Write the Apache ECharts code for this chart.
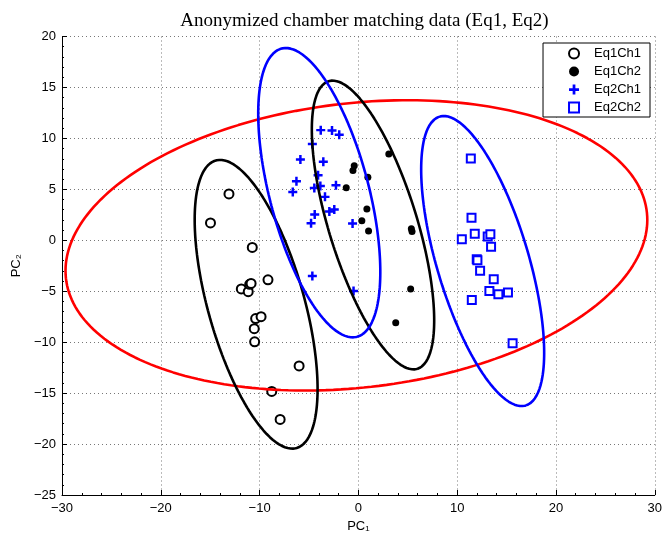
<!DOCTYPE html>
<html>
<head>
<meta charset="utf-8">
<script src="https://cdn.jsdelivr.net/npm/echarts@6/dist/echarts.min.js"></script>
<style>html,body{margin:0;padding:0;background:#fff;}#c{width:665px;height:538px;}</style>
</head>
<body>
<div id="c"></div>
<script>
// ---- data ----
const seriesNames = ['Eq1Ch1', 'Eq1Ch2', 'Eq2Ch1', 'Eq2Ch2'];
const eq1ch1 = [[-13.1,4.55],[-14.97,1.7],[-10.74,-0.7],[-9.15,-3.88],[-11.85,-4.78],[-11.15,-5.05],[-11.0,-4.32],[-10.86,-4.23],[-10.4,-7.68],[-9.85,-7.5],[-10.54,-8.68],[-10.5,-9.97],[-6.0,-12.33],[-8.77,-14.83],[-7.92,-17.58]];
const eq1ch2 = [[3.08,8.47],[-0.42,7.31],[-0.55,6.85],[0.96,6.19],[-1.23,5.16],[0.86,3.08],[0.35,1.92],[1.03,0.92],[5.36,1.12],[5.43,0.87],[5.29,-4.78],[3.78,-8.1]];
const eq2ch1 = [[-3.81,10.81],[-2.67,10.78],[-1.94,10.36],[-4.66,9.46],[-5.87,7.92],[-3.55,7.7],[-4.08,6.38],[-6.27,5.8],[-3.85,5.32],[-4.46,5.13],[-6.64,4.74],[-2.27,5.4],[-3.38,4.26],[-2.44,3.01],[-2.94,2.82],[-4.42,2.53],[-4.79,1.67],[-0.59,1.64],[-4.66,-3.5],[-0.49,-4.98]];
const eq2ch2 = [[11.38,8.02],[11.45,2.2],[11.78,0.64],[10.47,0.09],[13.09,0.38],[13.36,0.6],[13.43,-0.64],[11.98,-1.86],[12.05,-1.96],[12.32,-2.98],[13.7,-3.82],[13.26,-4.97],[14.17,-5.3],[15.14,-5.13],[11.48,-5.87],[15.61,-10.1]];
// confidence ellipses: center, semi-axes, rotation (radians)
const ellipseCx    = [-0.2, -10.35, 1.48, -3.96, 12.58];
const ellipseCy    = [-0.5, -6.28, 1.5, 4.67, -2.04];
const ellipseA     = [29.58, 14.69, 14.81, 14.65, 14.83];
const ellipseB     = [13.96, 4.86, 4.45, 5.01, 4.63];
const ellipseTheta = [0.109, -1.287, -1.261, -1.305, -1.271];
const xTicks = [-30, -20, -10, 0, 10, 20, 30];
const yTicks = [-25, -20, -15, -10, -5, 0, 5, 10, 15, 20];

// ---- styles ----
const ellipseColors = ['#ff0000', '#000000', '#000000', '#0000ff', '#0000ff'];
const FONT = 'Liberation Sans, Arial, Helvetica, sans-serif';
const plusPath = 'path://M-1.1,-4 L1.1,-4 L1.1,-1.1 L4,-1.1 L4,1.1 L1.1,1.1 L1.1,4 L-1.1,4 L-1.1,1.1 L-4,1.1 L-4,-1.1 L-1.1,-1.1 Z';

function ellipsePoints(i) {
  const pts = [];
  const n = 240;
  const c = Math.cos(ellipseTheta[i]), s = Math.sin(ellipseTheta[i]);
  for (let k = 0; k <= n; k++) {
    const t = 2 * Math.PI * k / n;
    const u = ellipseA[i] * Math.cos(t), v = ellipseB[i] * Math.sin(t);
    pts.push([ellipseCx[i] + u * c - v * s, ellipseCy[i] + u * s + v * c]);
  }
  return pts;
}
const minus = v => String(v).replace('-', '\u2212');

const chart = echarts.init(document.getElementById('c'), null, {renderer: 'canvas'});
const ellipseSeries = ellipseCx.map((_, i) => ({
  type: 'line', name: 'ellipse' + i, data: ellipsePoints(i), showSymbol: false, symbol: 'none',
  silent: true, animation: false, z: 3,
  lineStyle: {color: ellipseColors[i], width: 2.6, opacity: 1}
}));

chart.setOption({
  animation: false,
  backgroundColor: '#fff',
  title: {
    text: 'Anonymized chamber matching data (Eq1, Eq2)',
    left: 359.5, textAlign: 'center', top: 7,
    textStyle: {fontFamily: 'Liberation Serif, Times New Roman, serif', fontSize: 19, fontWeight: 'normal', color: '#000'}
  },
  grid: {left: 62, right: 8, top: 36.5, bottom: 34, containLabel: false},
  legend: {
    data: seriesNames, orient: 'vertical', right: 15, top: 43,
    backgroundColor: '#fff', borderColor: '#000', borderWidth: 1, borderRadius: 0,
    padding: [4, 9, 3, 25], itemGap: 5, itemWidth: 10, itemHeight: 10,
    textStyle: {fontFamily: FONT, fontSize: 13, color: '#000', padding: [0, 0, 0, 10]}
  },
  xAxis: {
    type: 'value', min: -30, max: 30, interval: 10,
    name: 'PC\u2081', nameLocation: 'middle', nameGap: 25,
    nameTextStyle: {fontFamily: FONT, fontSize: 13, color: '#000'},
    axisLine: {onZero: false, lineStyle: {color: '#000', width: 1}},
    axisTick: {inside: true, length: 5, lineStyle: {color: '#000'}},
    minorTick: {show: true, splitNumber: 5, length: 2, lineStyle: {color: '#000'}},
    axisLabel: {fontFamily: FONT, fontSize: 13, color: '#000', margin: 7, formatter: v => xTicks.includes(v) ? minus(v) : ''},
    splitLine: {show: true, lineStyle: {color: '#777', type: [1, 3], width: 1}}
  },
  yAxis: {
    type: 'value', min: -25, max: 20, interval: 5,
    name: 'PC\u2082', nameLocation: 'middle', nameGap: 37,
    nameTextStyle: {fontFamily: FONT, fontSize: 13, color: '#000'},
    axisLine: {onZero: false, lineStyle: {color: '#000', width: 1}},
    axisTick: {inside: true, length: 5, lineStyle: {color: '#000'}},
    minorTick: {show: true, splitNumber: 5, length: 2, lineStyle: {color: '#000'}},
    axisLabel: {fontFamily: FONT, fontSize: 13, color: '#000', margin: 6, formatter: v => yTicks.includes(v) ? minus(v) : ''},
    splitLine: {show: true, lineStyle: {color: '#777', type: [1, 3], width: 1}}
  },
  series: [
    {type: 'scatter', name: seriesNames[0], data: eq1ch1, symbol: 'circle', symbolSize: 9, z: 2,
     itemStyle: {color: '#fff', opacity: 1, borderColor: '#000', borderWidth: 2}},
    {type: 'scatter', name: seriesNames[1], data: eq1ch2, symbol: 'circle', symbolSize: 7, z: 2,
     itemStyle: {color: '#000', opacity: 1}},
    {type: 'scatter', name: seriesNames[2], data: eq2ch1, symbol: plusPath, symbolSize: 9, z: 2,
     itemStyle: {color: '#0000ff', opacity: 1}},
    {type: 'scatter', name: seriesNames[3], data: eq2ch2, symbol: 'rect', symbolSize: 8, z: 2,
     itemStyle: {color: '#fff', opacity: 1, borderColor: '#0000ff', borderWidth: 2}}
  ].concat(ellipseSeries)
});
</script>
</body>
</html>
